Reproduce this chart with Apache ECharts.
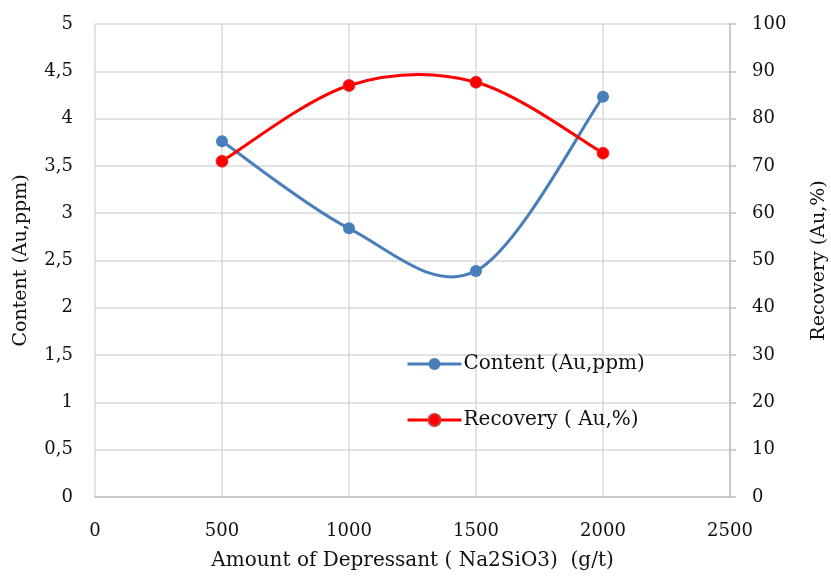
<!DOCTYPE html>
<html>
<head>
<meta charset="utf-8">
<script src="https://cdn.jsdelivr.net/npm/echarts@6/dist/echarts.min.js"></script>
<style>
html,body{margin:0;padding:0;background:#fff;}
#chart{width:831px;height:578px;}
</style>
</head>
<body>
<div id="chart"></div>
<script>
const dosage = [500, 1000, 1500, 2000];
const content = [3.76, 2.84, 2.39, 4.23];
const recovery = [71.0, 87.0, 87.7, 72.7];
const xTicks = [0, 500, 1000, 1500, 2000, 2500];

const FONT = 'DejaVu Serif';
const BLUE = '#4a7ebb';
const RED = '#ff0000';
const chart = echarts.init(document.getElementById('chart'), null, {renderer: 'canvas'});
const gridColor = '#d9d9d9';
const axisColor = '#bfbfbf';

// Excel-like smoothed curve (Catmull-Rom Bezier) through points mapped by the axes
function smoothCurve(values, axisIndex, color) {
  return function (params, api) {
    if (params.dataIndex !== 0) return null;
    const pts = dosage.map((d, i) => api.coord([d, values[i]]));
    const children = [];
    for (let i = 0; i < pts.length - 1; i++) {
      const p0 = pts[i - 1] || pts[i];
      const p1 = pts[i];
      const p2 = pts[i + 1];
      const p3 = pts[i + 2] || pts[i + 1];
      children.push({
        type: 'bezierCurve',
        shape: {
          x1: p1[0], y1: p1[1],
          cpx1: p1[0] + (p2[0] - p0[0]) / 6, cpy1: p1[1] + (p2[1] - p0[1]) / 6,
          cpx2: p2[0] - (p3[0] - p1[0]) / 6, cpy2: p2[1] - (p3[1] - p1[1]) / 6,
          x2: p2[0], y2: p2[1]
        },
        style: {stroke: color, lineWidth: 3, fill: null, lineCap: 'round'}
      });
    }
    return {type: 'group', children: children};
  };
}

chart.setOption({
  animation: false,
  backgroundColor: '#fff',
  textStyle: {fontFamily: FONT},
  grid: {left: 95, right: 101, top: 24, bottom: 81, containLabel: false, outerBoundsMode: 'none'},
  legend: {
    orient: 'vertical',
    left: 401,
    top: 349,
    itemWidth: 54,
    itemHeight: 15,
    itemGap: 36,
    textStyle: {fontFamily: FONT, fontSize: 20, color: '#111', padding: [0,0,0,-3]},
    data: [
      {name: 'Content (Au,ppm)', lineStyle: {width: 3, color: BLUE, opacity: 1}},
      {name: 'Recovery ( Au,%)', lineStyle: {width: 3, color: RED, opacity: 1}}
    ]
  },
  xAxis: {
    type: 'value',
    min: xTicks[0],
    max: xTicks[xTicks.length - 1],
    interval: 500,
    name: 'Amount of Depressant ( Na2SiO3)  (g/t)',
    nameLocation: 'middle',
    nameGap: 54,
    nameTextStyle: {fontFamily: FONT, fontSize: 20, color: '#111'},
    axisLine: {show: true, lineStyle: {color: axisColor, width: 1.5}},
    axisTick: {show: false},
    axisLabel: {fontFamily: FONT, fontSize: 18, color: '#111', margin: 25,
      formatter: v => String(v)},
    splitLine: {show: true, lineStyle: {color: gridColor, width: 1.5}}
  },
  yAxis: [
    {
      type: 'value',
      position: 'left',
      min: 0, max: 5, interval: 0.5,
      name: 'Content (Au,ppm)',
      nameLocation: 'middle',
      nameGap: 64,
      nameTextStyle: {fontFamily: FONT, fontSize: 19, color: '#111'},
      axisLine: {show: false},
      axisTick: {show: false},
      axisLabel: {fontFamily: FONT, fontSize: 18, color: '#111', margin: 22,
        formatter: v => String(v).replace('.', ',')},
      splitLine: {show: true, lineStyle: {color: gridColor, width: 1.5}}
    },
    {
      type: 'value',
      position: 'right',
      min: 0, max: 100, interval: 10,
      name: 'Recovery (Au,%)',
      nameLocation: 'middle',
      nameGap: 80,
      nameTextStyle: {fontFamily: FONT, fontSize: 19, color: '#111'},
      axisLine: {show: true, lineStyle: {color: axisColor, width: 1.5}},
      axisTick: {show: true, inside: false, length: 6, lineStyle: {color: axisColor, width: 1.5}},
      axisLabel: {fontFamily: FONT, fontSize: 18, color: '#111', margin: 22},
      splitLine: {show: false}
    }
  ],
  series: [
    {
      name: 'contentCurve',
      type: 'custom',
      yAxisIndex: 0,
      z: 1,
      silent: true,
      renderItem: smoothCurve(content, 0, BLUE),
      data: dosage.map((d, i) => [d, content[i]])
    },
    {
      name: 'recoveryCurve',
      type: 'custom',
      yAxisIndex: 1,
      z: 1,
      silent: true,
      renderItem: smoothCurve(recovery, 1, RED),
      data: dosage.map((d, i) => [d, recovery[i]])
    },
    {
      name: 'Content (Au,ppm)',
      type: 'line',
      yAxisIndex: 0,
      z: 3,
      symbol: 'circle',
      symbolSize: 12,
      lineStyle: {color: BLUE, width: 0, opacity: 0},
      itemStyle: {color: BLUE},
      data: dosage.map((d, i) => [d, content[i]])
    },
    {
      name: 'Recovery ( Au,%)',
      type: 'line',
      yAxisIndex: 1,
      z: 3,
      symbol: 'circle',
      symbolSize: 12,
      lineStyle: {color: RED, width: 0, opacity: 0},
      itemStyle: {color: RED, borderColor: '#d23a3a', borderWidth: 0.8},
      data: dosage.map((d, i) => [d, recovery[i]])
    }
  ]
});
</script>
</body>
</html>
